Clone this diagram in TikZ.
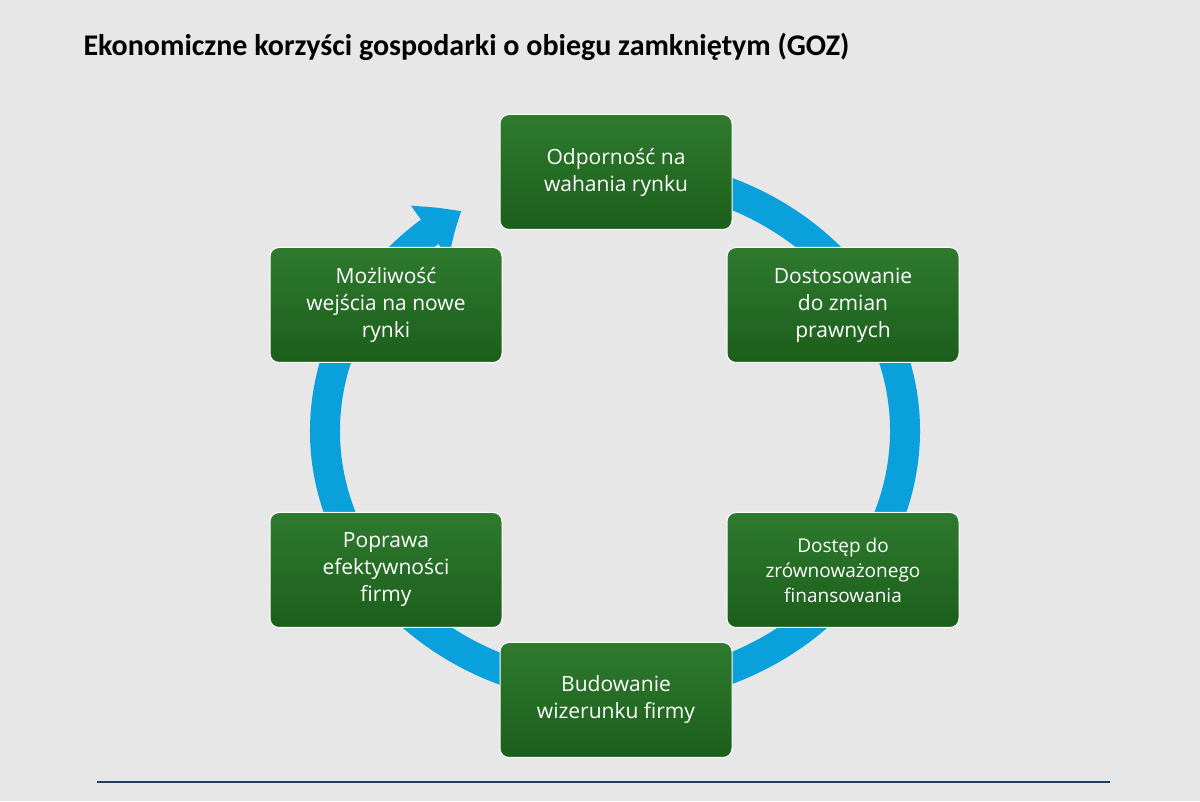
\documentclass[tikz,border=0pt]{standalone}
\usepackage{fontspec}
\setmainfont{Open Sans}
\newfontfamily\titlefont{Carlito}
\usetikzlibrary{arrows.meta,bending}
\definecolor{bg}{HTML}{E7E7E7}
\definecolor{ring}{HTML}{0AA0DC}
\definecolor{gtop}{HTML}{2F7A2F}
\definecolor{gbot}{HTML}{1B5E1B}
\definecolor{lineblue}{HTML}{1F3F5F}
\tikzset{
  box/.style={rounded corners=9pt, minimum width=232pt, minimum height=115pt,
    top color=gtop, bottom color=gbot, draw=white, line width=1pt, text=white,
    align=center, font=\fontsize{21}{27}\selectfont},
}
\begin{document}
\begin{tikzpicture}[x=1pt,y=1pt]
\fill[bg] (0,0) rectangle (1200,801);
\useasboundingbox (0,0) rectangle (1200,801);
\node[anchor=west,font=\titlefont\bfseries\fontsize{30}{34}\selectfont] (title) at (80,754) {Ekonomiczne korzyści gospodarki o obiegu zamkniętym (GOZ)};
\coordinate (c) at (615,370);
\draw[ring, line width=30pt, -{Triangle[width=62pt,length=38pt,bend]}] ([shift={(85:290 and 259)}]c) arc[start angle=85, end angle=-238, x radius=290, y radius=259];
\node[box] (n1) at (616,629) {Odporność na\\wahania rynku};
\node[box] (n2) at (843,496) {Dostosowanie\\do zmian\\prawnych};
\node[box, font=\fontsize{19}{25}\selectfont] (n3) at (843,231) {Dostęp do\\zrównoważonego\\finansowania};
\node[box] (n4) at (616,101) {Budowanie\\wizerunku firmy};
\node[box] (n5) at (386,231) {Poprawa\\efektywności\\firmy};
\node[box] (n6) at (386,496) {Możliwość\\wejścia na nowe\\rynki};
\coordinate (l1) at (97,19);
\coordinate (l2) at (1110,19);
\draw[lineblue, line width=2pt] (l1) -- (l2);
\end{tikzpicture}
\end{document}
